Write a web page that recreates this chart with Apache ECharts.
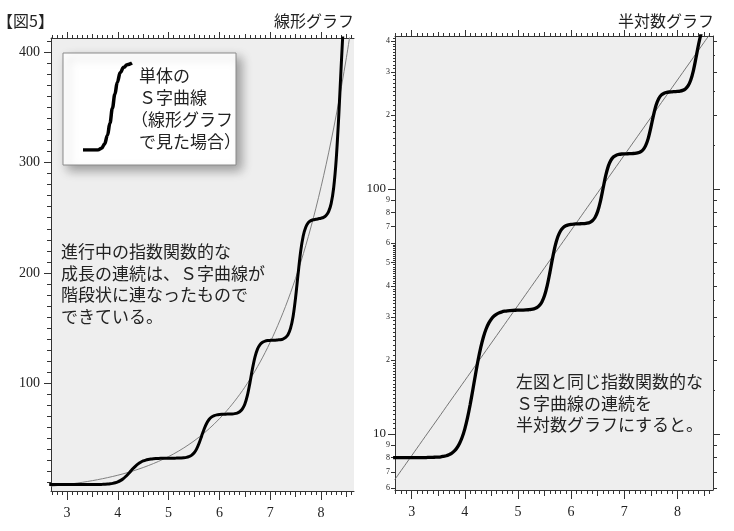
<!DOCTYPE html>
<html><head><meta charset="utf-8">
<script src="https://cdn.jsdelivr.net/npm/echarts@6/dist/echarts.min.js"></script>
<style>html,body{margin:0;padding:0;background:#fff}#c{width:734px;height:531px}</style>
</head><body><div id="c"></div>
<script>
// ---- data ----
// stepped S-curve series: [x, value]
const stepCurve = [
 [2.65,8.00],[2.70,8.00],[2.75,8.00],[2.80,8.00],[2.85,8.00],[2.90,8.00],[2.95,8.00],[3.00,8.00],[3.05,8.00],[3.10,8.00],
 [3.15,8.00],[3.20,8.00],[3.25,8.00],[3.30,8.01],[3.35,8.01],[3.40,8.02],[3.45,8.03],[3.50,8.04],[3.55,8.06],[3.60,8.10],
 [3.65,8.14],[3.70,8.22],[3.75,8.33],[3.80,8.50],[3.85,8.75],[3.90,9.13],[3.95,9.68],[4.00,10.48],[4.05,11.61],[4.10,13.14],
 [4.15,15.10],[4.20,17.43],[4.25,20.00],[4.30,22.53],[4.35,24.85],[4.40,26.78],[4.45,28.30],[4.50,29.43],[4.55,30.25],[4.60,30.81],
 [4.65,31.21],[4.70,31.47],[4.75,31.64],[4.80,31.77],[4.85,31.84],[4.90,31.89],[4.95,31.93],[5.00,31.95],[5.05,31.97],[5.10,31.99],
 [5.15,32.03],[5.20,32.09],[5.25,32.18],[5.30,32.36],[5.35,32.69],[5.40,33.33],[5.45,34.52],[5.50,36.65],[5.55,40.22],[5.60,45.46],
 [5.65,51.96],[5.70,58.47],[5.75,63.70],[5.80,67.26],[5.85,69.40],[5.90,70.61],[5.95,71.25],[6.00,71.60],[6.05,71.78],[6.10,71.86],
 [6.15,71.95],[6.20,72.02],[6.25,72.13],[6.30,72.38],[6.35,72.90],[6.40,74.07],[6.45,76.37],[6.50,80.84],[6.55,88.63],[6.60,100.0],
 [6.65,112.8],[6.70,123.7],[6.75,130.9],[6.80,135.0],[6.85,137.1],[6.90,138.1],[6.95,138.6],[7.00,138.8],[7.05,138.9],[7.10,139.0],
 [7.15,139.2],[7.20,139.4],[7.25,140.0],[7.30,141.3],[7.35,143.9],[7.40,149.6],[7.45,160.2],[7.50,177.6],[7.55,199.3],[7.60,219.5],
 [7.65,233.5],[7.70,241.4],[7.75,245.5],[7.80,247.4],[7.85,248.2],[7.90,248.6],[7.95,249.1],[8.00,249.6],[8.05,250.3],[8.10,252.0],
 [8.15,255.5],[8.20,262.8],[8.25,277.2],[8.30,302.9],[8.35,342.4],[8.40,389.6],[8.45,432.4],[8.50,462.1]
];
// thin exponential trend line
const trendX = [2.68,2.9,3.1,3.3,3.5,3.7,3.9,4.1,4.3,4.5,4.7,4.9,5.1,5.3,5.5,5.7,5.9,6.1,6.3,6.5,6.7,6.9,7.1,7.3,7.5,7.7,7.9,8.1,8.3,8.5,8.7];
const trendY = [6.50,7.59,8.74,10.07,11.59,13.36,15.38,17.71,20.39,23.49,27.04,31.14,35.86,41.30,47.56,54.77,63.07,72.63,83.64,96.32,110.9,127.7,147.1,169.4,195.1,224.7,258.7,298.0,343.1,395.1,455.0];
// single S-curve in the inset box (normalised)
const insetX = [0,0.3,0.38,0.44,0.5,0.55,0.6,0.65,0.7,0.76,0.83,0.9,1.0];
const insetY = [0,0,0.02,0.07,0.17,0.31,0.48,0.64,0.78,0.89,0.95,0.98,1.0];

const xTickLabels = [3,4,5,6,7,8];
const xHalfTicks = [3.5,4.5,5.5,6.5,7.5,8.5];
const yLinearLabels = [100,200,300,400];
const yLogBigLabels = [10,100];
const yLogBigTexts = ['10','100'];
const yLogSmallLabels = [6,7,8,9,20,30,40,50,60,70,80,90,200,300,400];
const yLogSmallTexts = ['6','7','8','9','2','3','4','5','6','7','8','9','2','3','4'];

const titleMain = '【図5】';
const titleLeft = '線形グラフ';
const titleRight = '半対数グラフ';
const insetLines = ['単体の', 'Ｓ字曲線', '（線形グラフ', 'で見た場合）'];
const leftText = '進行中の指数関数的な\n成長の連続は、Ｓ字曲線が\n階段状に連なったもので\nできている。';
const rightText = '左図と同じ指数関数的な\nＳ字曲線の連続を\n半対数グラフにすると。';

// ---- helpers ----
function seq(a, b, step, dec) {
  const out = []; const p = Math.pow(10, dec);
  for (let v = a; v <= b + 1e-9; v += step) out.push(Math.round(v * p) / p);
  return out;
}
function zip(a, b) { return a.map((v, i) => [v, b[i]]); }
const xMinorTicks = seq(2.7, 8.6, 0.1, 1);
const yLinMinorTicks = seq(10, 410, 10, 0);
const yLogMinorTicks = [].concat(seq(10.5, 19.5, 0.5, 1), seq(21, 59, 1, 0), seq(110, 190, 10, 0), seq(210, 290, 10, 0), seq(310, 390, 10, 0), [410]);
const yLogRightMinor = [15, 25, 35, 45, 150, 250, 350];

const AX = '#333';
const SERIF = '"Liberation Serif", "DejaVu Serif", serif';
const SANS = '"Noto Sans CJK JP", "Noto Sans", sans-serif';

const xAxes = [], yAxes = [];
function addX(o) {
  xAxes.push({
    type: 'value', splitLine: { show: false },
    gridIndex: o.grid, position: o.pos, min: o.min, max: o.max,
    axisLine: { show: !!o.line, onZero: false, lineStyle: { color: AX, width: 1 } },
    axisTick: { show: true, inside: false, customValues: o.ticks, length: o.len, lineStyle: { color: AX, width: 1 } },
    axisLabel: o.labels ? { show: true, customValues: o.labels, margin: 15, fontFamily: SERIF, fontSize: 14, color: '#222' } : { show: false }
  });
  return xAxes.length - 1;
}
function addY(o) {
  const ax = {
    type: o.type || 'value', splitLine: { show: false },
    gridIndex: o.grid, position: o.pos, min: o.min, max: o.max,
    axisLine: { show: !!o.line, onZero: false, lineStyle: { color: AX, width: 1 } },
    axisTick: { show: true, inside: false, customValues: o.ticks, length: o.len, lineStyle: { color: AX, width: 1 } },
    axisLabel: { show: false }
  };
  if (o.type === 'log') ax.logBase = 10;
  if (o.labels) {
    ax.axisLabel = { show: true, customValues: o.labels, margin: o.margin, fontFamily: SERIF, fontSize: o.fs, color: '#222',
      formatter: o.texts ? function (v) { const i = o.labels.findIndex(t => Math.abs(t - v) < 1e-6); return i >= 0 ? o.texts[i] : ''; } : null };
  }
  yAxes.push(ax);
  return yAxes.length - 1;
}

// ---- left (linear) panel: grid 0 ----
const LXmin = 2.685, LXmax = 8.65, LYmin = 2.2, LYmax = 413;
const lx = addX({ grid: 0, pos: 'bottom', min: LXmin, max: LXmax, ticks: xTickLabels, len: 9, labels: xTickLabels, line: true });
addX({ grid: 0, pos: 'bottom', min: LXmin, max: LXmax, ticks: xHalfTicks, len: 6 });
addX({ grid: 0, pos: 'bottom', min: LXmin, max: LXmax, ticks: xMinorTicks, len: 4 });
addX({ grid: 0, pos: 'top', min: LXmin, max: LXmax, ticks: xTickLabels, len: 6, line: true });
addX({ grid: 0, pos: 'top', min: LXmin, max: LXmax, ticks: xHalfTicks, len: 4 });
addX({ grid: 0, pos: 'top', min: LXmin, max: LXmax, ticks: xMinorTicks, len: 3 });
const ly = addY({ grid: 0, pos: 'left', min: LYmin, max: LYmax, ticks: yLinearLabels, len: 7, labels: yLinearLabels, margin: 11, fs: 14, line: true });
addY({ grid: 0, pos: 'left', min: LYmin, max: LYmax, ticks: yLinMinorTicks, len: 4 });

// ---- right (semi-log) panel: grid 1 ----
const RXmin = 2.686, RXmax = 8.67, RYmin = 5.9, RYmax = 420;
const rx = addX({ grid: 1, pos: 'bottom', min: RXmin, max: RXmax, ticks: xTickLabels, len: 9, labels: xTickLabels, line: true });
addX({ grid: 1, pos: 'bottom', min: RXmin, max: RXmax, ticks: xHalfTicks, len: 6 });
addX({ grid: 1, pos: 'bottom', min: RXmin, max: RXmax, ticks: xMinorTicks, len: 4 });
addX({ grid: 1, pos: 'top', min: RXmin, max: RXmax, ticks: xTickLabels, len: 6, line: true });
addX({ grid: 1, pos: 'top', min: RXmin, max: RXmax, ticks: xHalfTicks, len: 4 });
addX({ grid: 1, pos: 'top', min: RXmin, max: RXmax, ticks: xMinorTicks, len: 3 });
const ry = addY({ grid: 1, type: 'log', pos: 'left', min: RYmin, max: RYmax, ticks: yLogBigLabels, len: 7, labels: yLogBigLabels, texts: yLogBigTexts, margin: 9, fs: 13, line: true });
addY({ grid: 1, type: 'log', pos: 'left', min: RYmin, max: RYmax, ticks: yLogSmallLabels, len: 4, labels: yLogSmallLabels, texts: yLogSmallTexts, margin: 5, fs: 8 });
addY({ grid: 1, type: 'log', pos: 'left', min: RYmin, max: RYmax, ticks: yLogMinorTicks, len: 2 });
addY({ grid: 1, type: 'log', pos: 'right', min: RYmin, max: RYmax, ticks: yLogBigLabels, len: 7, line: true });
addY({ grid: 1, type: 'log', pos: 'right', min: RYmin, max: RYmax, ticks: yLogSmallLabels, len: 4 });
addY({ grid: 1, type: 'log', pos: 'right', min: RYmin, max: RYmax, ticks: yLogRightMinor, len: 2 });

// ---- inset grid 2 ----
const ix = xAxes.push({ type: 'value', gridIndex: 2, min: 0, max: 1, show: false }) - 1;
const iy = yAxes.push({ type: 'value', gridIndex: 2, min: 0, max: 1, show: false }) - 1;

const BG = '#eeeeee';
const textStyle = { fontFamily: SANS, fontSize: 17, fill: '#222', verticalAlign: 'middle' };
const insetEls = insetLines.map((t, i) => ({
  type: 'text', z: 10, x: i === 2 ? 131 : 139, y: 76 + i * 21.7,
  style: Object.assign({}, textStyle, { text: t })
}));
const option = {
  animation: false,
  backgroundColor: '#ffffff',
  grid: [
    { left: 51, top: 38, width: 303, height: 453, show: true, backgroundColor: BG, borderWidth: 0 },
    { left: 395, top: 36, width: 318, height: 454, show: true, backgroundColor: BG, borderWidth: 0 },
    { left: 83, top: 63, width: 49, height: 87 }
  ],
  xAxis: xAxes,
  yAxis: yAxes,
  series: [
    { type: 'line', xAxisIndex: lx, yAxisIndex: ly, data: zip(trendX, trendY), showSymbol: false, smooth: 0.3, lineStyle: { color: '#808080', width: 1 }, z: 2 },
    { type: 'line', xAxisIndex: lx, yAxisIndex: ly, data: stepCurve, showSymbol: false, smooth: 0.3, lineStyle: { color: '#000', width: 3 }, z: 3 },
    { type: 'line', xAxisIndex: rx, yAxisIndex: ry, data: zip(trendX, trendY), showSymbol: false, smooth: 0.3, lineStyle: { color: '#666', width: 0.9 }, z: 2 },
    { type: 'line', xAxisIndex: rx, yAxisIndex: ry, data: stepCurve, showSymbol: false, smooth: 0.3, lineStyle: { color: '#000', width: 3.3 }, z: 3 },
    { type: 'line', xAxisIndex: ix, yAxisIndex: iy, data: zip(insetX, insetY), showSymbol: false, smooth: 0.4, smoothMonotone: 'x', lineStyle: { color: '#000', width: 3.5 }, z: 6 }
  ],
  graphic: { elements: [
    { type: 'rect', z: 4, shape: { x: 63, y: 53, width: 173, height: 112 },
      style: { fill: '#fff', stroke: '#8a8a8a', lineWidth: 1, shadowBlur: 10, shadowOffsetX: 5, shadowOffsetY: 5, shadowColor: 'rgba(0,0,0,0.35)' } },
    { type: 'text', z: 10, x: -3, y: 21, style: { text: titleMain, fontFamily: SANS, fontSize: 16, fill: '#222', verticalAlign: 'middle' } },
    { type: 'text', z: 10, x: 354, y: 21, style: { text: titleLeft, fontFamily: SANS, fontSize: 16, fill: '#222', align: 'right', verticalAlign: 'middle' } },
    { type: 'text', z: 10, x: 714, y: 21, style: { text: titleRight, fontFamily: SANS, fontSize: 16, fill: '#222', align: 'right', verticalAlign: 'middle' } },
    ...insetEls,
    { type: 'text', z: 10, x: 61, y: 241, style: { text: leftText, fontFamily: SANS, fontSize: 17, lineHeight: 21.5, fill: '#222', verticalAlign: 'top' } },
    { type: 'text', z: 10, x: 516, y: 371, style: { text: rightText, fontFamily: SANS, fontSize: 17, lineHeight: 21.5, fill: '#222', verticalAlign: 'top' } }
  ] }
};
const chart = echarts.init(document.getElementById('c'), null, { renderer: 'canvas' });
chart.setOption(option);
</script></body></html>
